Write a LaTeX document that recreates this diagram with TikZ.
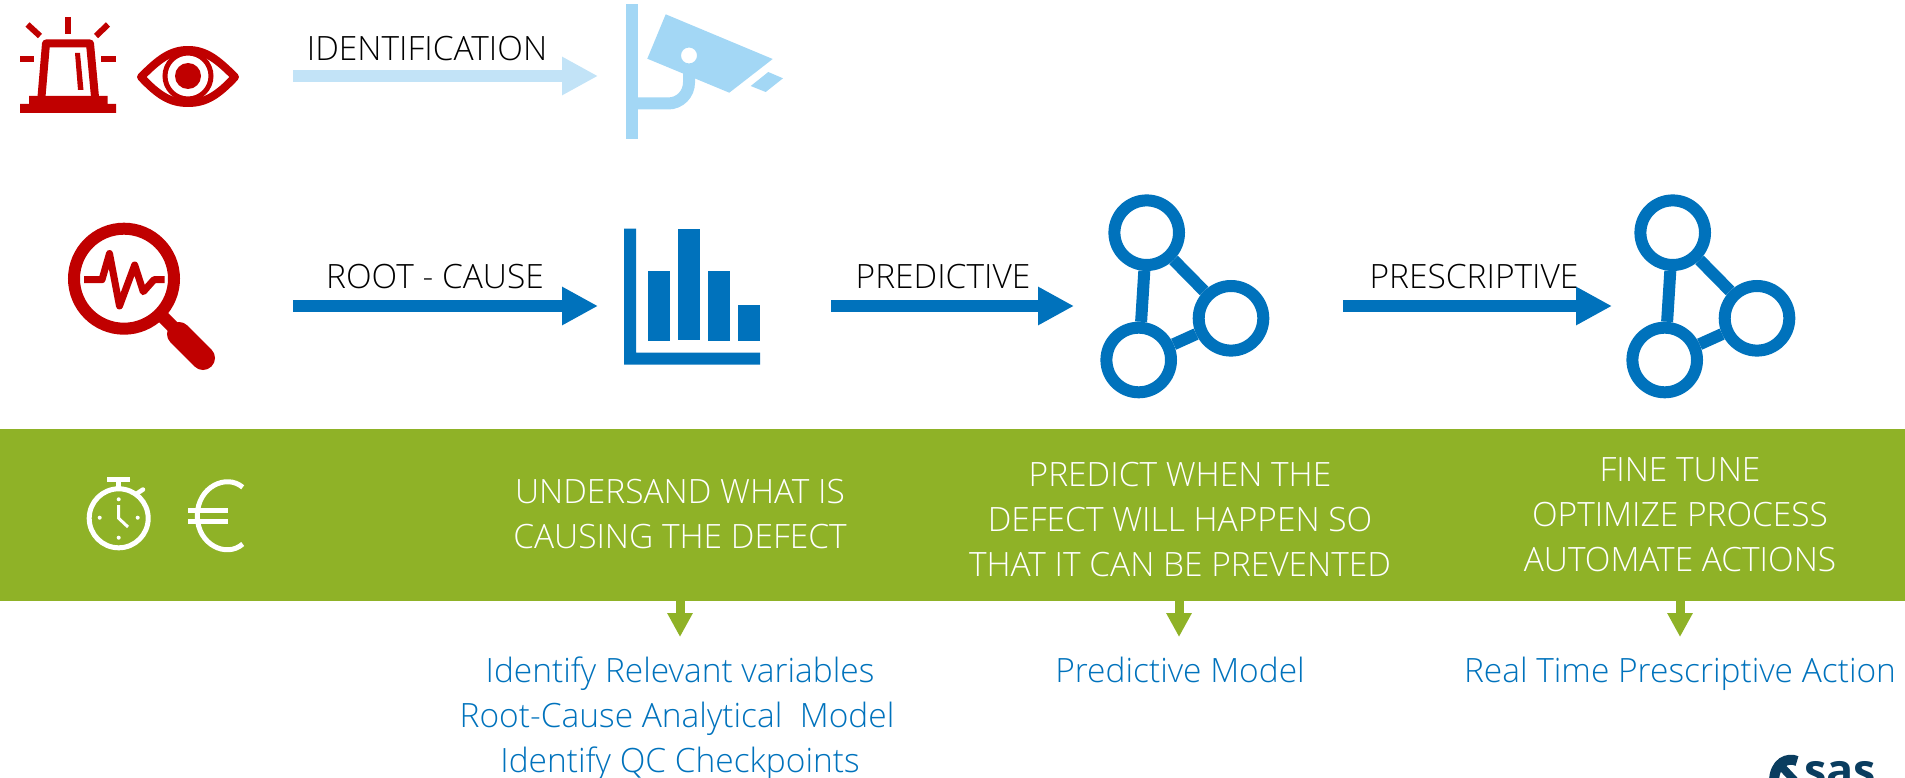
\documentclass[tikz,border=0pt]{standalone}
\usepackage{fontspec}
\setmainfont{Open Sans}[UprightFont=* Light]
\newfontfamily\sasfont{Open Sans}
\usetikzlibrary{arrows.meta}
\definecolor{sred}{HTML}{C00000}
\definecolor{sblue}{HTML}{0072BC}
\definecolor{slight}{HTML}{A3D7F5}
\definecolor{slighter}{HTML}{C2E3F7}
\definecolor{sgreen}{HTML}{8FB227}
\definecolor{sasnavy}{HTML}{0A3D5F}
\tikzset{
  bigarrow/.style={line width=12pt,-{Triangle[length=36pt,width=36pt]}},
  smallarrow/.style={line width=9pt,-{Triangle[length=24pt,width=24pt]}},
  lbl/.style={font=\fontsize{33.5}{33.5}\selectfont,anchor=base,inner sep=0pt,text=black},
  wlbl/.style={font=\fontsize{33.5}{33.5}\selectfont,anchor=base,inner sep=0pt,text=white},
  blbl/.style={font=\fontsize{33.5}{33.5}\selectfont,anchor=base,inner sep=0pt,text=sblue},
  redline/.style={draw=sred,line cap=butt},
  netline/.style={draw=sblue,line width=12pt},
  netring/.style={draw=sblue,line width=12pt,fill=white,circle,minimum size=64.6pt,inner sep=0pt},
  whiteline/.style={draw=white,line width=5pt},
}
\begin{document}
\begin{tikzpicture}[x=1pt,y=-1pt]
\useasboundingbox (0,0) rectangle (1905,778);
\clip (0,0) rectangle (1905,778);
% band
\node[fill=sgreen,minimum width=1905pt,minimum height=171.7pt,inner sep=0pt,anchor=north west] (band) at (0,429) {};
% arrow coordinates
\coordinate (a1s) at (293,76); \coordinate (a1e) at (598,76);
\coordinate (a2s) at (293,306); \coordinate (a2e) at (598,306);
\coordinate (a3s) at (831,306); \coordinate (a3e) at (1074,306);
\coordinate (a4s) at (1343,306); \coordinate (a4e) at (1612,306);
\draw[bigarrow,color=slighter] (a1s) -- (a1e);
\draw[bigarrow,color=sblue] (a2s) -- (a2e);
\draw[bigarrow,color=sblue] (a3s) -- (a3e);
\draw[bigarrow,color=sblue] (a4s) -- (a4e);
\coordinate (b1s) at (680,600); \coordinate (b1e) at (680,637);
\coordinate (b2s) at (1179,600); \coordinate (b2e) at (1179,637);
\coordinate (b3s) at (1680,600); \coordinate (b3e) at (1680,637);
\draw[smallarrow,color=sgreen] (b1s) -- (b1e);
\draw[smallarrow,color=sgreen] (b2s) -- (b2e);
\draw[smallarrow,color=sgreen] (b3s) -- (b3e);
% labels
\node[lbl] (t1) at (427,60.5) {IDENTIFICATION};
\node[lbl] (t2) at (435,288) {ROOT - CAUSE};
\node[lbl] (t3) at (943,288) {PREDICTIVE};
\node[lbl] (t4) at (1474,288) {PRESCRIPTIVE};
\node[wlbl] (u1) at (680,503) {UNDERSAND WHAT IS};
\node[wlbl] (u2) at (680,548) {CAUSING THE DEFECT};
\node[wlbl] (p1) at (1180,486) {PREDICT WHEN THE};
\node[wlbl] (p2) at (1180,531) {DEFECT WILL HAPPEN SO};
\node[wlbl] (p3) at (1180,576) {THAT IT CAN BE PREVENTED};
\node[wlbl] (f1) at (1680,481) {FINE TUNE};
\node[wlbl] (f2) at (1680,526) {OPTIMIZE PROCESS};
\node[wlbl] (f3) at (1680,571) {AUTOMATE ACTIONS};
\node[blbl] (i1) at (680,682) {Identify Relevant variables};
\node[blbl] (i2) at (677,727) {Root-Cause Analytical\ \ Model};
\node[blbl] (i3) at (680,772) {Identify QC Checkpoints};
\node[blbl] (m1) at (1180,682) {Predictive Model};
\node[blbl] (r1) at (1680,682) {Real Time Prescriptive Action};
% beacon
\draw[redline,line width=6pt] (68,17)--(68,34);
\draw[redline,line width=6pt] (27.5,24.5)--(40,36);
\draw[redline,line width=6pt] (108,24.5)--(96,36);
\draw[redline,line width=6pt] (20,59)--(34,59);
\draw[redline,line width=6pt] (101,59)--(116,59);
\draw[redline,line width=8pt,line join=round] (41.5,97)--(46,43.5)--(90,43.5)--(95,97);
\fill[sred] (29,96)--(107.5,96)--(107.5,104)--(116,104)--(116,113)--(20,113)--(20,104)--(29,104)--cycle;
\fill[sred] (75,53)--(80,53)--(83.5,90)--(78,90)--cycle;
% eye
\draw[sred,line width=8pt,line join=round] (141,77) .. controls (158,60) and (170,50) .. (188,50) .. controls (206,50) and (218,60) .. (235,77) .. controls (218,95) and (206,103) .. (188,103) .. controls (170,103) and (158,95) .. (141,77) -- cycle;
\begin{scope}
\clip (141,77) .. controls (158,60) and (170,50) .. (188,50) .. controls (206,50) and (218,60) .. (235,77) .. controls (218,95) and (206,103) .. (188,103) .. controls (170,103) and (158,95) .. (141,77) -- cycle;
\draw[sred,line width=5pt] (188,76) circle[radius=23];
\end{scope}
\fill[sred] (188,76) circle[radius=13];
% camera
\fill[slight] (625.5,4) rectangle (637.5,139);
\draw[slight,line width=12pt] (637,103.5) -- (668,103.5) .. controls (680,103.5) and (689,94) .. (689,82.5) -- (689,72);
\fill[slight,even odd rule] (665.7,14.3)--(772.7,59)--(729.3,92.7)--(647.3,58.7)--cycle (689,55.5) circle[radius=8];
\fill[slight] (768.3,72)--(783,78.3)--(765.7,92)--(750.7,86)--cycle;
% magnifier
\draw[sred,line width=12pt] (124,278.7) circle[radius=50];
\draw[sred,line width=13pt] (161,315)--(180,334);
\draw[sred,line width=24pt,line cap=round] (179,334)--(203,358);
\draw[sred,line width=7pt,line join=round,line cap=butt] (84,279.7)--(102,279.7)--(109.5,253.5)--(119.5,306)--(134.7,265)--(143.3,291.7)--(154,279.7)--(164.7,279.7);
% bars
\fill[sblue] (624,228.5)--(636,228.5)--(636,352.5)--(760,352.5)--(760,364.5)--(624,364.5)--cycle;
\fill[sblue] (648,271) rectangle (670,341);
\fill[sblue] (678,228.5) rectangle (700,340);
\fill[sblue] (708,271) rectangle (730,341);
\fill[sblue] (738,305) rectangle (760,341);
% networks
\node[netring] (n1a) at (1146.7,232.7) {};
\node[netring] (n1b) at (1231,318.3) {};
\node[netring] (n1c) at (1138.7,360) {};
\draw[netline] (n1a) -- (n1b);
\draw[netline] (n1b) -- (n1c);
\draw[netline] (n1c) -- (n1a);
\node[netring] (n2a) at (1672.7,232.7) {};
\node[netring] (n2b) at (1757,318.3) {};
\node[netring] (n2c) at (1664.7,360) {};
\draw[netline] (n2a) -- (n2b);
\draw[netline] (n2b) -- (n2c);
\draw[netline] (n2c) -- (n2a);
% stopwatch
\draw[whiteline] (118.7,518.3) circle[radius=29.5];
\draw[white,line width=5.5pt] (107.3,479.3)--(130,479.3);
\draw[whiteline] (118.7,480)--(118.7,489);
\draw[white,line width=4.5pt,line cap=round] (137.3,493.3)--(143,489.5);
\fill[white] (118.7,499.3) circle[radius=2] (99.7,517.7) circle[radius=2] (137.7,517.7) circle[radius=2] (118.7,537.7) circle[radius=2];
\draw[white,line width=3pt] (118.7,505)--(118.7,518.3)--(128,527);
% euro
\draw[whiteline] (242.7,487.3) .. controls (226.7,473.3) and (197.3,486.7) .. (197.3,515.7) .. controls (197.3,545) and (226.7,558.3) .. (242.7,544);
\draw[whiteline] (188.3,510)--(228.3,510);
\draw[whiteline] (188.3,521.7)--(228.3,521.7);
% SAS logo
\draw[sasnavy,line width=10pt] (1797,761) .. controls (1788,757) and (1774,762) .. (1774,782);
\draw[sasnavy,line width=8pt] (1781,766)--(1795,781);
\node[font=\sasfont\bfseries\fontsize{45}{45}\selectfont,text=sasnavy,anchor=base west,inner sep=0pt] (sas) at (1804,786) {sas};
\end{tikzpicture}
\end{document}
